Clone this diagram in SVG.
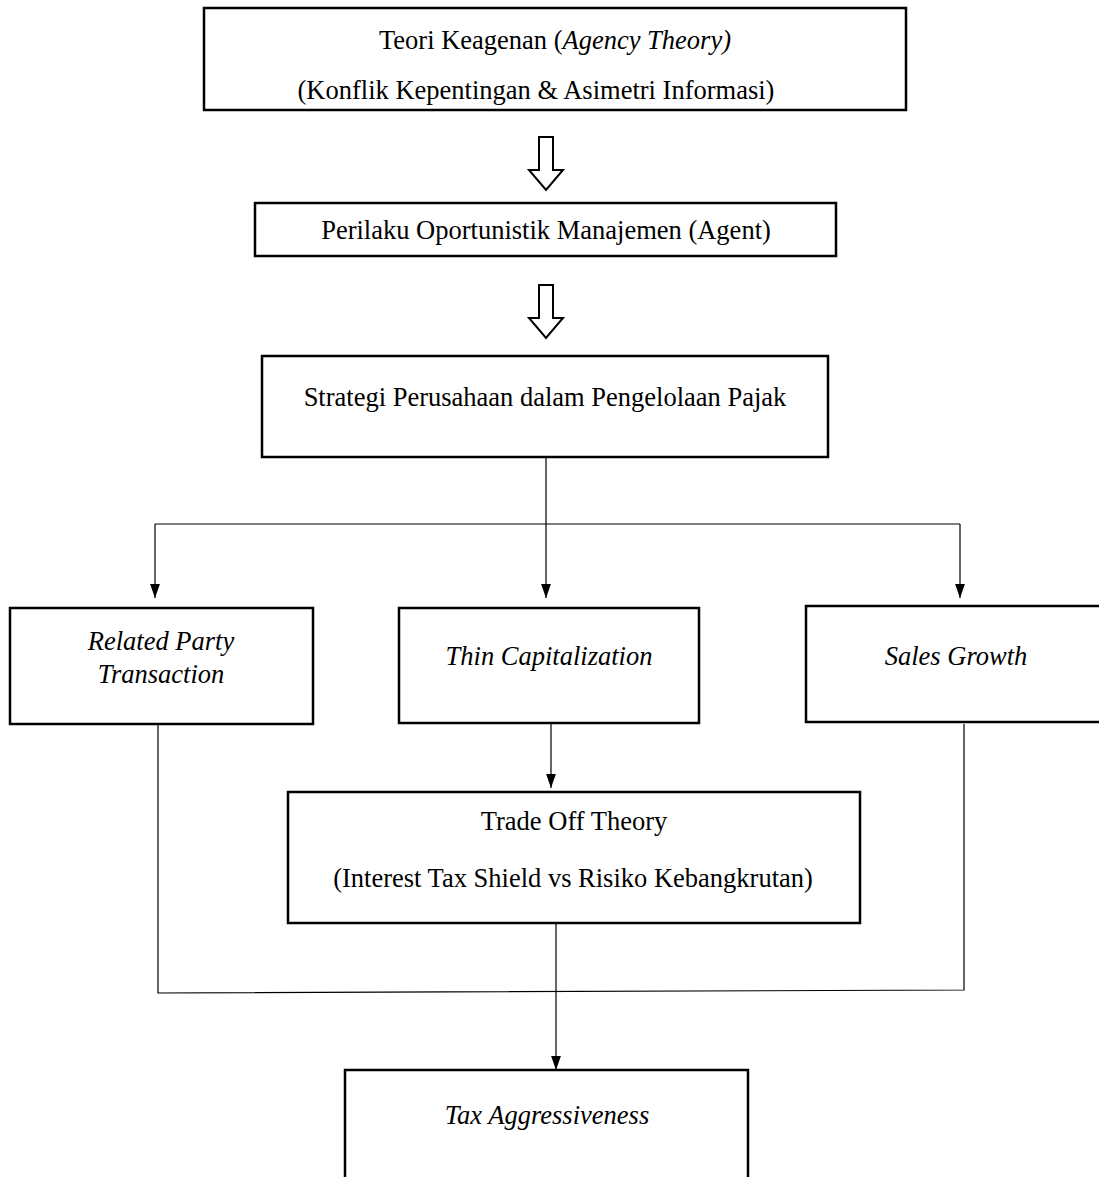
<svg xmlns="http://www.w3.org/2000/svg" width="1099" height="1177" viewBox="0 0 1099 1177">
<style>
.box{fill:#fff;stroke:#000;stroke-width:2.5}
.t{font-family:"Liberation Serif","Times New Roman",serif;font-size:26.5px;fill:#000;text-anchor:middle}
.i{font-style:italic}
.c{fill:none;stroke:#000;stroke-width:1.2}
.blk{fill:#fff;stroke:#000;stroke-width:2}
</style>
<defs>
<marker id="a" markerWidth="14" markerHeight="20" refX="20" refY="7" orient="auto" markerUnits="userSpaceOnUse" viewBox="0 0 20 14">
<path d="M0,0 L20,7 L0,14 Z" fill="#000"/>
</marker>
</defs>
<rect width="1099" height="1177" fill="#fff"/>
<g id="n1">
<rect class="box" x="204" y="8" width="702" height="102"/>
<text class="t" x="555" y="49">Teori Keagenan (<tspan class="i">Agency Theory)</tspan></text>
<text class="t" x="536" y="99">(Konflik Kepentingan &amp; Asimetri Informasi)</text>
</g>
<g id="n2">
<rect class="box" x="255" y="203" width="581" height="53"/>
<text class="t" x="546" y="239">Perilaku Oportunistik Manajemen (Agent)</text>
</g>
<g id="n3">
<rect class="box" x="262" y="356" width="566" height="101"/>
<text class="t" x="545" y="406">Strategi Perusahaan dalam Pengelolaan Pajak</text>
</g>
<g id="n4">
<rect class="box" x="10" y="608" width="303" height="116"/>
<text class="t i" x="161" y="650">Related Party</text>
<text class="t i" x="161" y="683">Transaction</text>
</g>
<g id="n5">
<rect class="box" x="399" y="608" width="300" height="115"/>
<text class="t i" x="549" y="665">Thin Capitalization</text>
</g>
<g id="n6">
<rect class="box" x="806" y="606" width="300" height="116"/>
<text class="t i" x="956" y="665">Sales Growth</text>
</g>
<g id="n7">
<rect class="box" x="288" y="792" width="572" height="131"/>
<text class="t" x="574" y="830">Trade Off Theory</text>
<text class="t" x="573" y="887">(Interest Tax Shield vs Risiko Kebangkrutan)</text>
</g>
<g id="n8">
<rect class="box" x="345" y="1070" width="403" height="120"/>
<text class="t i" x="547" y="1124">Tax Aggressiveness</text>
</g>
<g id="connectors">
<path class="blk" d="M539,137 H553 V170 H563 L546,190 L529,170 H539 Z"/>
<path class="blk" d="M539,285 H553 V318 H563 L546,338 L529,318 H539 Z"/>
<line class="c" x1="546" y1="457" x2="546" y2="598" marker-end="url(#a)"/>
<line class="c" x1="155" y1="524" x2="960" y2="524" stroke="#555"/>
<line class="c" x1="155" y1="524" x2="155" y2="598" marker-end="url(#a)"/>
<line class="c" x1="960" y1="524" x2="960" y2="598" marker-end="url(#a)"/>
<line class="c" x1="551" y1="724" x2="551" y2="788" marker-end="url(#a)"/>
<polyline class="c" points="158,724 158,993 964,990 964,724"/>
<line class="c" x1="556" y1="923" x2="556" y2="1070" marker-end="url(#a)"/>
</g>
</svg>
